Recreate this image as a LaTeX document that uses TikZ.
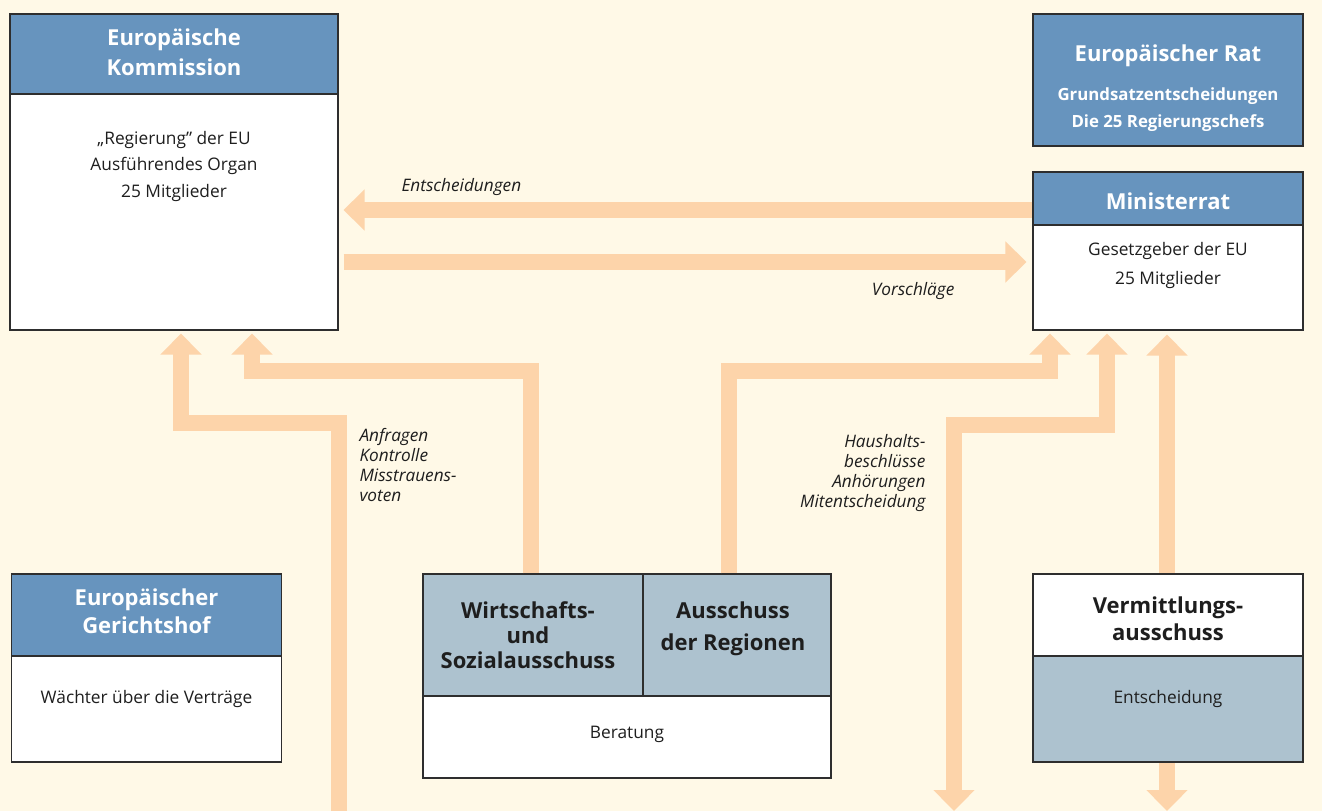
\documentclass[tikz,border=0pt]{standalone}
\usepackage{fontspec}
\setmainfont{Open Sans}
\usetikzlibrary{arrows.meta}
\definecolor{bg}{HTML}{FFF9E7}
\definecolor{hblue}{HTML}{6794BE}
\definecolor{lblue}{HTML}{ADC2CF}
\definecolor{peach}{HTML}{FDD4AA}
\definecolor{bord}{HTML}{2E2E2E}
\definecolor{txt}{HTML}{1E1E1E}
\tikzset{
  boxbase/.style={rectangle, draw=bord, line width=1.1pt, inner sep=0pt},
  bodybox/.style={boxbase, fill=white},
  hdrbox/.style={boxbase, fill=hblue},
  greybox/.style={boxbase, fill=lblue},
  titlew/.style={text=white, align=center, font=\bfseries\fontsize{22}{30}\selectfont},
  titled/.style={text=txt, align=center, font=\bfseries\fontsize{22}{26}\selectfont},
  bodytxt/.style={text=txt, align=center, font=\fontsize{17.3}{26.7}\selectfont},
  lbl/.style={text=txt, font=\itshape\fontsize{17.2}{20.3}\selectfont},
  flow/.style={draw=peach, line width=16pt, line join=miter, line cap=butt,
    -{Triangle[width=40pt,length=21pt]}},
  flow2/.style={draw=peach, line width=16pt, line join=miter, line cap=butt,
    {Triangle[width=40pt,length=21pt]}-{Triangle[width=40pt,length=21pt]}},
}
\begin{document}
\begin{tikzpicture}[x=1pt,y=-1pt]
\useasboundingbox (0,0) rectangle (1322,811);
\fill[bg] (0,0) rectangle (1322,811);

% ---------- boxes (named, arrows refer to them) ----------
\path (174,172) node[bodybox, minimum width=328, minimum height=316] (kom) {};
\path (1168,251) node[bodybox, minimum width=270, minimum height=158] (min) {};
\path (627,676) node[bodybox, minimum width=408, minimum height=204] (wsa) {};
\path (533,635) node[greybox, minimum width=220, minimum height=122] (wsah) {};
\path (737,635) node[greybox, minimum width=188, minimum height=122] (adr) {};

% ---------- arrows ----------
\draw[flow, shorten >=5pt] (min.west |- 0,210) -- (kom.east |- 0,210);
\draw[flow, shorten <=5pt, shorten >=6pt] (kom.east |- 0,262) -- (min.west |- 0,262);
\draw[flow, shorten >=3pt] (339,811) |- (181,423) -- (kom.south -| 181,0);
\draw[flow, shorten >=3pt] (wsah.north -| 531,0) |- (252,371) -- (kom.south -| 252,0);
\draw[flow, shorten >=3pt] (adr.north -| 729,0) |- (1050,371) -- (min.south -| 1050,0);
\draw[flow2, shorten >=3pt] (954,811) |- (1107,425) -- (min.south -| 1107,0);
\draw[flow2, shorten >=4pt] (1167,811) -- (min.south -| 1167,0);

% ---------- Europäische Kommission ----------
\path (174,54) node[hdrbox, minimum width=328, minimum height=80] (komh) {};
\node[titlew] (komt) at (174,52) {Europäische\\Kommission};
\node[bodytxt] (komb) at (174,166.5) {„Regierung” der EU\\Ausführendes Organ\\25 Mitglieder};

% ---------- Europäischer Rat ----------
\path (1168,80) node[hdrbox, minimum width=270, minimum height=132] (rat) {};
\node[titlew] (ratt) at (1168,56) {Europäischer Rat};
\node[text=white, align=center, font=\bfseries\fontsize{16.8}{27}\selectfont] (ratb) at (1168,110) {Grundsatzentscheidungen\\Die 25 Regierungschefs};

% ---------- Ministerrat ----------
\path (1168,198.5) node[hdrbox, minimum width=270, minimum height=53] (minh) {};
\node[titlew] (mint) at (1168,201) {Ministerrat};
\node[bodytxt, font=\fontsize{17.3}{29}\selectfont] (minb) at (1168,266) {Gesetzgeber der EU\\25 Mitglieder};

% ---------- Gerichtshof ----------
\path (146.5,668) node[bodybox, minimum width=270, minimum height=188] (egh) {};
\path (146.5,615) node[hdrbox, minimum width=270, minimum height=82] (eghh) {};
\node[titlew, font=\bfseries\fontsize{22}{28}\selectfont] (eght) at (146.5,611) {Europäischer\\Gerichtshof};
\node[bodytxt] (eghb) at (146.5,699) {Wächter über die Verträge};

% ---------- WSA / AdR ----------
\node[titled, font=\bfseries\fontsize{22}{25}\selectfont] (wsat) at (528,635) {Wirtschafts-\\und\\Sozialausschuss};
\node[titled, font=\bfseries\fontsize{22}{32}\selectfont] (adrt) at (733,629) {Ausschuss\\der Regionen};
\node[bodytxt] (wsab) at (627,734) {Beratung};

% ---------- Vermittlungsausschuss ----------
\path (1168,668) node[greybox, minimum width=270, minimum height=188] (vma) {};
\path (1168,615) node[bodybox, minimum width=270, minimum height=82] (vmah) {};
\node[titled, font=\bfseries\fontsize{22}{27}\selectfont] (vmat) at (1168,619) {Vermittlungs-\\ausschuss};
\node[bodytxt] (vmab) at (1168,699) {Entscheidung};

% ---------- labels ----------
\node[lbl, anchor=west] (l1) at (398,187) {Entscheidungen};
\node[lbl, anchor=east] (l2) at (958,291) {Vorschläge};
\node[lbl, anchor=west, align=left] (l3) at (356,465) {Anfragen\\Kontrolle\\Misstrauens-\\voten};
\node[lbl, anchor=east, align=right] (l4) at (929,473) {Haushalts-\\beschlüsse\\Anhörungen\\Mitentscheidung};
\end{tikzpicture}
\end{document}
